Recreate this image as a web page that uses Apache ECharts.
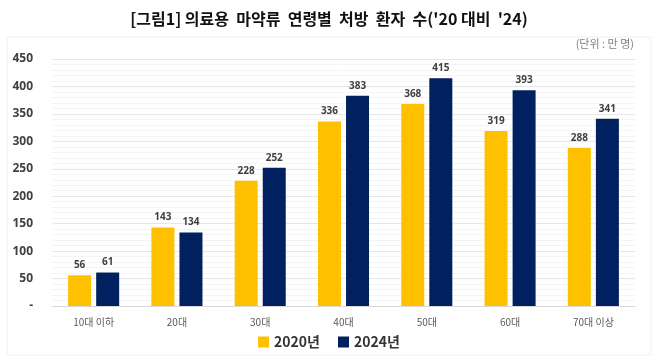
<!DOCTYPE html>
<html><head><meta charset="utf-8">
<script src="https://cdn.jsdelivr.net/npm/echarts@6/dist/echarts.min.js"></script>
<style>html,body{margin:0;padding:0;background:#fff;}#c{width:658px;height:361px;}</style>
</head><body><div id="c"></div>
<script>
const categories = ['10대 이하','20대','30대','40대','50대','60대','70대 이상'];
const values2020 = [56,143,228,336,368,319,288];
const values2024 = [61,134,252,383,415,393,341];
const yTicks = [0,50,100,150,200,250,300,350,400,450];
const seriesNames = ['2020년','2024년'];

const chart = echarts.init(document.getElementById('c'));
const lblStyle = {show:true, position:'top', distance:5, fontSize:10, fontWeight:'bold', color:'#404040', fontFamily:'Open Sans'};
chart.setOption({
  animation:false,
  title:{text:"[그림1] 의료용  마약류  연령별  처방  환자  수('20 대비  '24)", left:'center', top:6,
    textStyle:{fontSize:16, fontWeight:'bold', color:'#111', fontFamily:'Noto Sans CJK KR'}},
  graphic:[
    {type:'rect', shape:{x:7,y:37,width:644,height:318}, style:{fill:'none', stroke:'#f0f0f0', lineWidth:1}},
    {type:'text', right:24, top:38, style:{text:'(단위 : 만 명)', fontSize:11, fill:'#7f7f7f', fontFamily:'Noto Sans CJK KR'}}
  ],
  legend:{data:seriesNames, bottom:7, left:'center', itemWidth:11, itemHeight:11, itemGap:18, icon:'rect',
    textStyle:{fontSize:14, fontWeight:'bold', color:'#333', fontFamily:'Noto Sans CJK KR'}},
  grid:{left:52, right:23, top:59, bottom:55},
  xAxis:{type:'category', data:categories,
    axisLine:{lineStyle:{color:'#d9d9d9'}}, axisTick:{show:false},
    axisLabel:{fontSize:10, color:'#595959', margin:11, fontFamily:'Noto Sans CJK KR'}},
  yAxis:{type:'value', min:yTicks[0], max:yTicks[yTicks.length-1], interval:50,
    axisLabel:{fontSize:12, fontWeight:'bold', color:'#404040', margin:19, fontFamily:'Open Sans',
      formatter:v=> v===0 ? '-' : String(v)},
    splitLine:{lineStyle:{color:'#e6e6e6'}},
    minorTick:{show:false, splitNumber:5},
    minorSplitLine:{show:true, lineStyle:{color:'#f4f4f4'}},
    axisLine:{show:false}, axisTick:{show:false}},
  series:[
    {name:seriesNames[0], type:'bar', data:values2020, barWidth:23, barGap:'22%', itemStyle:{color:'#FFC000'}, label:lblStyle},
    {name:seriesNames[1], type:'bar', data:values2024, barWidth:23, itemStyle:{color:'#002060'}, label:lblStyle}
  ]
});
</script></body></html>
